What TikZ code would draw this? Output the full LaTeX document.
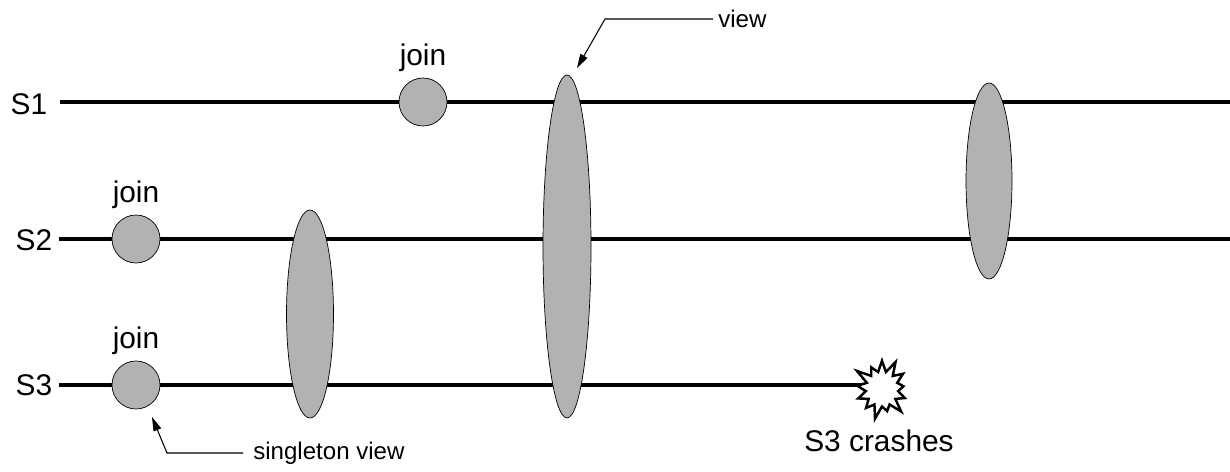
\documentclass[tikz,border=0pt]{standalone}
\usepackage{fontspec}
\setmainfont{Liberation Sans}
\usepackage{xcolor}
\usetikzlibrary{positioning, arrows.meta, shapes.geometric, shapes.symbols}

\begin{document}
\begin{tikzpicture}[x=0.02cm, y=-0.02cm, node distance=0.12cm,
		proc/.style={line width=1.8pt},
		joinpt/.style={circle, draw, thin, fill=black!30, inner sep=0pt, minimum size=0.96cm},
		viewell/.style={ellipse, draw, thin, fill=black!30, inner sep=0pt},
		big/.style={font=\fontsize{17}{20}\selectfont, inner sep=0pt},
		small/.style={font=\fontsize{13.7}{16}\selectfont, inner sep=0pt},
		callout/.style={line width=0.6pt, -{Triangle[length=0.28cm, width=0.16cm]}}]
		\useasboundingbox (0,0) rectangle (1230,472);
		
		% processes
		\node[big] (s1) at (29,104) {S1};
		\node[big] (s2) at (34,240) {S2};
		\node[big] (s3) at (34,385) {S3};
		\coordinate (s1start) at (60,102);
		\coordinate (s1end) at (1230,102);
		\coordinate (s2start) at (59,239);
		\coordinate (s2end) at (1230,239);
		\coordinate (s3start) at (59,385);
		\coordinate (crashpt) at (880,385);
		\draw[proc] (s1start) -- (s1end);
		\draw[proc] (s2start) -- (s2end);
		\draw[proc] (s3start) -- (crashpt);
		
		% joins
		\node[joinpt] (join1) at (423,102) {};
		\node[joinpt] (join2) at (136,239) {};
		\node[joinpt] (join3) at (136,385) {};
		\node[big, above=of join1] (jl1) {join};
		\node[big, above=of join2] (jl2) {join};
		\node[big, above=of join3] (jl3) {join};
		
		% views
		\node[viewell, minimum width=0.94cm, minimum height=4.16cm] (v1) at (310,314) {};
		\node[viewell, minimum width=0.96cm, minimum height=6.86cm] (v2) at (567,246.5) {};
		\node[viewell, minimum width=0.92cm, minimum height=3.92cm] (v3) at (989,181) {};
		
		% crash
		\node[starburst, draw, fill=white, line width=1.4pt, inner sep=0pt, starburst points=13,
			starburst point height=0.3cm, minimum width=1.25cm, minimum height=1.3cm] (crash) at (882,389) {};
		\node[big] (crashlbl) at (879,441) {S3 crashes};
		
		% callouts
		\node[small, anchor=west, inner sep=0.1cm] (viewlbl) at (713,19) {view};
		\coordinate (viewbend) at (605,19);
		\coordinate (viewtip) at (577,68);
		\draw[callout] (viewlbl.west) -- (viewbend) -- (viewtip);
		
		\node[small, anchor=west, inner sep=0.2cm] (singlbl) at (243,453) {singleton view};
		\coordinate (singbend) at (167,453);
		\coordinate (singtip) at (152,417);
		\draw[callout] (singlbl.west) -- (singbend) -- (singtip);
\end{tikzpicture}
\end{document}
